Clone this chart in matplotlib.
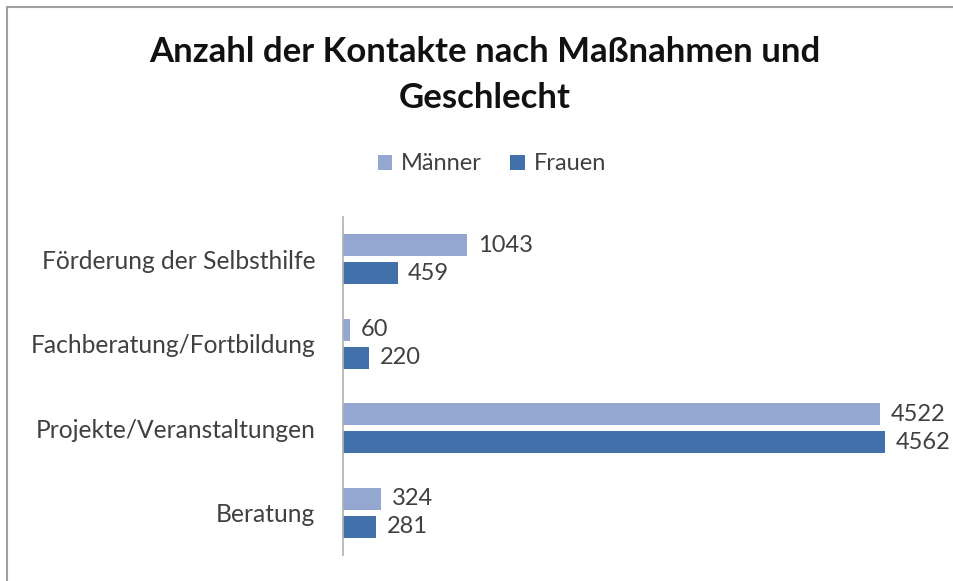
import matplotlib.pyplot as plt
import numpy as np
from matplotlib.patches import Rectangle

plt.rcParams["font.family"] = ["Lato", "DejaVu Sans"]

categories = ["Förderung der Selbsthilfe", "Fachberatung/Fortbildung",
              "Projekte/Veranstaltungen", "Beratung"]
maenner = [1043, 60, 4522, 324]
frauen = [459, 220, 4562, 281]
series_names = ["Männer", "Frauen"]
title = "Anzahl der Kontakte nach Maßnahmen und\nGeschlecht"

c_m = "#93A7D0"
c_f = "#4270AA"
txt = "#404040"

W, H = 954, 581
fig = plt.figure(figsize=(W / 100, H / 100), dpi=100)

# outer chart frame (open on right and bottom, cropped screenshot)
fig.add_artist(Rectangle((7 / W, -0.05), 2, 1.05 - 7 / H, transform=fig.transFigure,
                         fill=False, edgecolor="#A0A0A0", linewidth=1.5))

x0, x1 = 343, 954
y_top, y_bot = 217, 555
ax = fig.add_axes([x0 / W, 1 - y_bot / H, (x1 - x0) / W, (y_bot - y_top) / H])

y = np.arange(len(categories))
h = 0.26
off = 0.165
ax.barh(y - off, maenner, height=h, color=c_m, label=series_names[0])
ax.barh(y + off, frauen, height=h, color=c_f, label=series_names[1])

for yi, v in zip(y - off, maenner):
    ax.text(v + 90, yi, str(v), va="center", ha="left", fontsize=17, color=txt)
for yi, v in zip(y + off, frauen):
    ax.text(v + 90, yi, str(v), va="center", ha="left", fontsize=17, color=txt)

ax.set_xlim(0, 4562 * (x1 - x0) / (885 - x0))
ax.set_ylim(len(categories) - 0.5, -0.5)
ax.set_yticks(y)
ax.set_yticklabels(categories, fontsize=17.7, color=txt)
ax.tick_params(axis="y", length=0, pad=20)
ax.set_xticks([])
for s in ["top", "right", "bottom"]:
    ax.spines[s].set_visible(False)
ax.spines["left"].set_color("#B0B0B0")
ax.spines["left"].set_linewidth(1.2)
ax.patch.set_visible(False)

fig.text(485 / W, 1 - 75 / H, title, ha="center", va="center", fontsize=25,
         fontweight="bold", color="#111111", linespacing=1.55)

fig.legend(loc="center", bbox_to_anchor=(492 / W, 1 - 164 / H), ncol=2, frameon=False,
           fontsize=17, handlelength=0.6, handleheight=0.6, handletextpad=0.4,
           columnspacing=1.2, labelcolor=txt)

fig.savefig("out.png", dpi=100)
